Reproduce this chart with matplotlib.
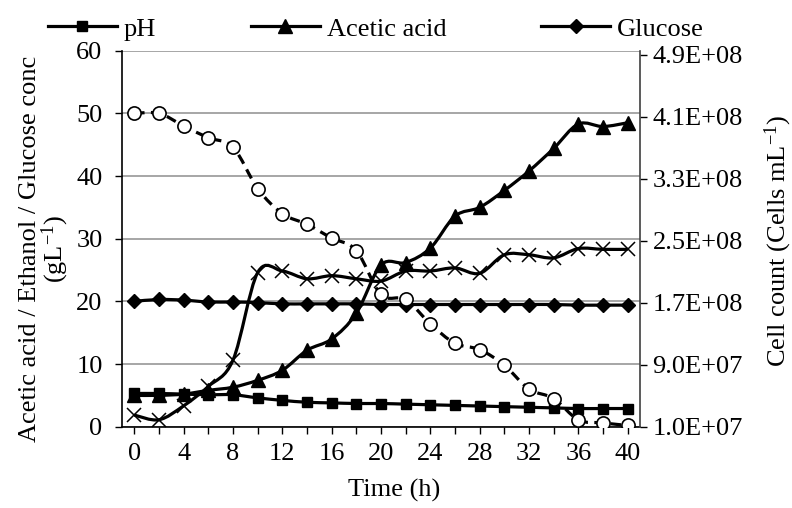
import matplotlib
matplotlib.use("Agg")
import matplotlib.pyplot as plt
from matplotlib.path import Path
from matplotlib.patches import PathPatch
from matplotlib.lines import Line2D
from matplotlib.ticker import FuncFormatter

plt.rcParams['font.family'] = ['Liberation Serif', 'DejaVu Serif']
plt.rcParams['mathtext.fontset'] = 'custom'
plt.rcParams['mathtext.rm'] = 'Liberation Serif'
plt.rcParams['mathtext.it'] = 'Liberation Serif:italic'
FS = 19

# ---------------- data ----------------
time_h = [0, 2, 4, 6, 8, 10, 12, 14, 16, 18, 20, 22, 24, 26, 28, 30, 32, 34, 36, 38, 40]
ph = [5.3, 5.3, 5.2, 5.1, 5.1, 4.6, 4.2, 3.9, 3.8, 3.7, 3.7, 3.6, 3.5, 3.4, 3.3,
      3.2, 3.1, 3.0, 2.9, 2.9, 2.9]
acetic_acid = [5.0, 5.0, 5.2, 5.8, 6.3, 7.4, 9.0, 12.2, 14.0, 18.1, 25.8, 26.2, 28.5,
               33.6, 35.0, 37.7, 40.8, 44.4, 48.3, 47.9, 48.5]
glucose = [20.0, 20.3, 20.2, 19.9, 19.9, 19.8, 19.6, 19.6, 19.6, 19.6, 19.5, 19.5,
           19.5, 19.5, 19.5, 19.5, 19.5, 19.5, 19.4, 19.4, 19.4]
ethanol_glucose = [50.0, 50.0, 48.0, 46.1, 44.6, 38.0, 34.0, 32.3, 30.1, 28.1, 21.1,
                   20.3, 16.4, 13.3, 12.3, 9.8, 6.0, 4.5, 1.1, 0.6, 0.2]
cell_count = [2.5e7, 1.9e7, 3.7e7, 6.2e7, 9.6e7, 2.09e8, 2.11e8, 2.01e8, 2.05e8, 2.01e8,
              1.98e8, 2.11e8, 2.11e8, 2.15e8, 2.08e8, 2.32e8, 2.32e8, 2.28e8, 2.40e8,
              2.39e8, 2.39e8]
x_tick_labels = ['0', '4', '8', '12', '16', '20', '24', '28', '32', '36', '40']
right_ticks = [1.0e7, 9.0e7, 1.7e8, 2.5e8, 3.3e8, 4.1e8, 4.9e8]
legend_labels = ['pH', 'Acetic acid', 'Glucose']


def smooth_path(x, y):
    n = len(x)
    verts = [(x[0], y[0])]
    codes = [Path.MOVETO]
    for i in range(n - 1):
        xa, ya = (x[i - 1], y[i - 1]) if i > 0 else (x[i], y[i])
        xb, yb = (x[i + 2], y[i + 2]) if i + 2 < n else (x[i + 1], y[i + 1])
        c1 = (x[i] + (x[i + 1] - xa) / 6.0, y[i] + (y[i + 1] - ya) / 6.0)
        c2 = (x[i + 1] - (xb - x[i]) / 6.0, y[i + 1] - (yb - y[i]) / 6.0)
        verts += [c1, c2, (x[i + 1], y[i + 1])]
        codes += [Path.CURVE4] * 3
    return Path(verts, codes)


W, H = 792, 508
fig = plt.figure(figsize=(W / 100, H / 100), dpi=100)
left, right, top, bottom = 122, 640, 50.7, 426.7
ax = fig.add_axes([left / W, 1 - bottom / H, (right - left) / W, (bottom - top) / H])

LW = 2.3
styles = [
    (ph, dict(marker='s', ms=7.5, mfc='black', mec='black'), '-', 3),
    (acetic_acid, dict(marker='^', ms=9.5, mfc='black', mec='black'), '-', 4),
    (glucose, dict(marker='D', ms=7.5, mfc='black', mec='black'), '-', 5),
    (ethanol_glucose, dict(marker='o', ms=9.5, mfc='white', mec='black', mew=1.2),
     (0, (3.2, 2.0)), 6),
]
for vals, mk, ls, z in styles:
    ax.add_patch(PathPatch(smooth_path(time_h, vals), fill=False, lw=LW, ec='black',
                           ls=ls, zorder=z, capstyle='butt'))
    ax.plot(time_h, vals, ls='none', zorder=z + 0.5, **mk)

ax.set_xlim(-1, 41)
ax.set_ylim(0, 60)
ax.set_xticks(time_h)
ax.set_xticklabels([str(t) if str(t) in x_tick_labels else '' for t in time_h])
ax.set_yticks(range(0, 61, 10))
ax.yaxis.grid(True, color='#a6a6a6', lw=1.4)
ax.set_axisbelow(True)
ax.tick_params(axis='x', direction='out', length=5, width=1, pad=7, labelsize=FS)
ax.tick_params(axis='y', direction='out', length=5, width=1, pad=9, labelsize=FS)
ax.spines['top'].set_visible(False)
ax.spines['right'].set_visible(False)
for s in ['left', 'bottom']:
    ax.spines[s].set_linewidth(1.2)
    ax.spines[s].set_color('black')

ax2 = ax.twinx()
ax2.set_ylim(1.0e7, 4.955e8)
ax2.add_patch(PathPatch(smooth_path(time_h, cell_count), fill=False, lw=LW,
                        ec='black', zorder=3))
ax2.plot(time_h, cell_count, ls='none', marker='x', ms=10, mew=1.1, color='black',
         zorder=4)
ax2.set_yticks(right_ticks)
ax2.yaxis.set_major_formatter(FuncFormatter(lambda v, p: f"{v:.1E}"))
ax2.tick_params(axis='y', direction='out', length=5, width=1, pad=4, labelsize=FS)
for s in ['left', 'top', 'bottom']:
    ax2.spines[s].set_visible(False)
ax2.spines['right'].set_linewidth(1.2)
ax2.spines['right'].set_color('#404040')

# labels
fig.text(45 / W, 1 - 249 / H,
         'Acetic acid / Ethanol / Glucose conc\n(gL$^{\\mathregular{-1}}$)',
         rotation=90, ha='center', va='center', multialignment='center',
         linespacing=0.92, fontsize=FS)
fig.text(785 / W, 1 - 241 / H, 'Cell count (Cells mL$^{\\mathregular{-1}}$)', rotation=90,
         rotation_mode='anchor', ha='center', va='baseline', fontsize=FS)
fig.text(394 / W, 1 - 490 / H, 'Time (h)', ha='center', va='center', fontsize=FS)

# legend
handles = [
    Line2D([], [], color='black', lw=LW, marker='s', ms=7.5),
    Line2D([], [], color='black', lw=LW, marker='^', ms=9.5),
    Line2D([], [], color='black', lw=LW, marker='D', ms=7.5),
]
fig.legend(handles, legend_labels, loc='center left', bbox_to_anchor=(48 / W, 1 - 29 / H),
           ncol=3, frameon=False, fontsize=FS, handlelength=2.6, handletextpad=0.27,
           columnspacing=3.6, borderpad=0, borderaxespad=0)

fig.savefig('out.png', dpi=100)
